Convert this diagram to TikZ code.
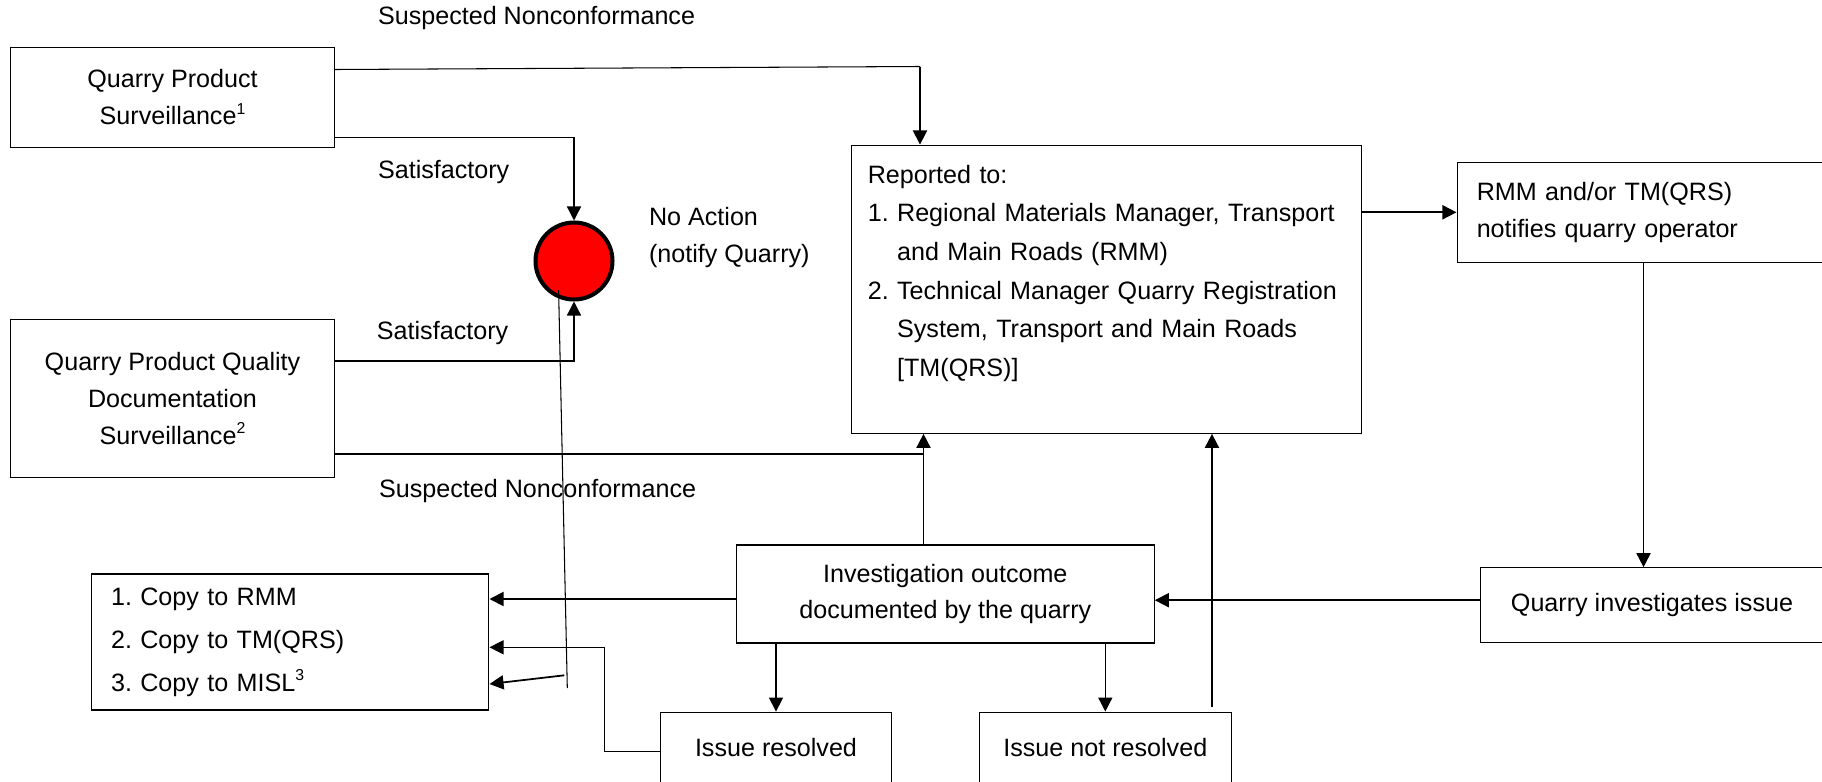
\documentclass[tikz,border=0pt]{standalone}
\usepackage{fontspec}
\setmainfont{Liberation Sans}
\usetikzlibrary{arrows.meta,calc}
\newcommand{\fnmark}[1]{\raisebox{0.42em}{\fontsize{9}{9}\selectfont #1}}
\begin{document}
\begin{tikzpicture}[x=0.02cm,y=-0.02cm,font=\fontsize{14.3}{21}\selectfont,
  box/.style={draw,line width=0.6pt,inner sep=0pt,align=center},
  lbox/.style={draw,line width=0.6pt,inner ysep=0pt,align=left},
  lab/.style={anchor=west,inner sep=0pt,align=left},
  arr/.style={line width=1pt,-{Triangle[length=8pt,width=8pt]}},
  ln/.style={line width=0.6pt}]
\useasboundingbox (0,0) rectangle (1822,781);
% boxes
\node[box,minimum width=6.488cm,minimum height=1.994cm] (qps) at (172.5,97.2) {Quarry Product\\Surveillance\fnmark{1}};
\node[box,minimum width=6.488cm,minimum height=3.166cm] (qpq) at (172.5,398.2) {Quarry Product Quality\\Documentation\\Surveillance\fnmark{2}};
\node[circle,draw,fill=red,line width=2.3pt,minimum size=1.54cm,inner sep=0pt] (circ) at (574,261) {};
\node[lbox,text width=9.55cm,inner xsep=0.329cm,minimum height=5.766cm] (rep) at (1106.5,289.2) {Reported to:\\[1pt]1.~Regional Materials Manager, Transport\\[1pt]\hphantom{1.~}and Main Roads (RMM)\\[1pt]2.~Technical Manager Quarry Registration\\[1pt]\hphantom{2.~}System, Transport and Main Roads\\[1pt]\hphantom{2.~}[TM(QRS)]\\\mbox{}};
\node[lbox,text width=6.672cm,inner xsep=0.394cm,minimum height=2cm] (rmm) at (1643.5,212.3) {RMM and/or TM(QRS)\\notifies quarry operator};
\node[box,minimum width=8.36cm,minimum height=1.96cm] (inv) at (945.3,594) {Investigation outcome\\documented by the quarry};
\node[box,minimum width=6.88cm,minimum height=1.5cm] (qinv) at (1652,605.2) {Quarry investigates issue};
\node[lbox,text width=7.176cm,inner xsep=0.384cm,minimum height=2.72cm] (copy) at (290.4,642) {1.~Copy to RMM\\[3.4pt]2.~Copy to TM(QRS)\\[3.4pt]3.~Copy to MISL\fnmark{3}};
\node[box,minimum width=4.612cm,minimum height=1.4cm] (res) at (776,747.1) {Issue resolved};
\node[box,minimum width=5.038cm,minimum height=1.4cm] (nres) at (1105.3,747.1) {Issue not resolved};
% labels
\node[lab] (sn1) at (377.7,18.3) {Suspected Nonconformance};
\node[lab] (sat1) at (377.7,171.7) {Satisfactory};
\node[lab] (sat2) at (376.6,333.3) {Satisfactory};
\node[lab] (sn2) at (378.8,490.7) {Suspected Nonconformance};
\node[lab] (noact) at (648.7,237.5) {No Action\\(notify Quarry)};
% connectors
\coordinate (snA) at ($(qps.east)+(0,-27.7)$);
\coordinate (dnA) at (920,66.5);
\draw[ln] (snA) -- (dnA);
\draw[arr] (dnA) -- (dnA |- rep.north);
\draw[arr,line width=0.8pt] ($(qps.east)+(0,40.1)$) -| (circ.north);
\draw[arr,line width=0.8pt] ($(qpq.east)+(0,-37.2)$) -| (circ.south);
\coordinate (upA) at ($(inv.north)+(-21.8,0)$);
\draw[arr] (upA) -- (upA |- rep.south);
\coordinate (snB) at ($(qpq.east)+(0,55.8)$);
\draw[ln] (snB) -- (snB -| upA);
\draw[arr] (rep.east |- rmm.west) -- (rmm.west);
\draw[arr] (rmm.south) -- (rmm.south |- qinv.north);
\draw[arr] ([yshift=0.1cm]qinv.west) -- ([yshift=0.1cm]qinv.west -| inv.east);
\draw[arr] ([yshift=-0.1cm]inv.west) -- ([yshift=-0.1cm]inv.west -| copy.east);
\coordinate (tm) at ($(copy.east)+(0,5.3)$);
\draw[arr,line width=0.8pt] ([yshift=-0.09cm]res.west) -- ++(-55.7,0) |- (tm);
\draw[ln] ($(circ.center)+(-15.4,29)$) -- ++(8.7,398);
\coordinate (misl) at (564.3,675.3);
\draw[arr] (misl) -- ($(copy.east)+(0,42)$);
\draw[arr,line width=0.8pt] (inv.south -| res.north) -- (res.north);
\draw[arr,line width=0.8pt] (inv.south -| nres.north) -- (nres.north);
\draw[arr] ([shift={(2.134cm,0.1cm)}]nres.north) -- ([xshift=2.134cm]nres.north |- rep.south);
\end{tikzpicture}
\end{document}
